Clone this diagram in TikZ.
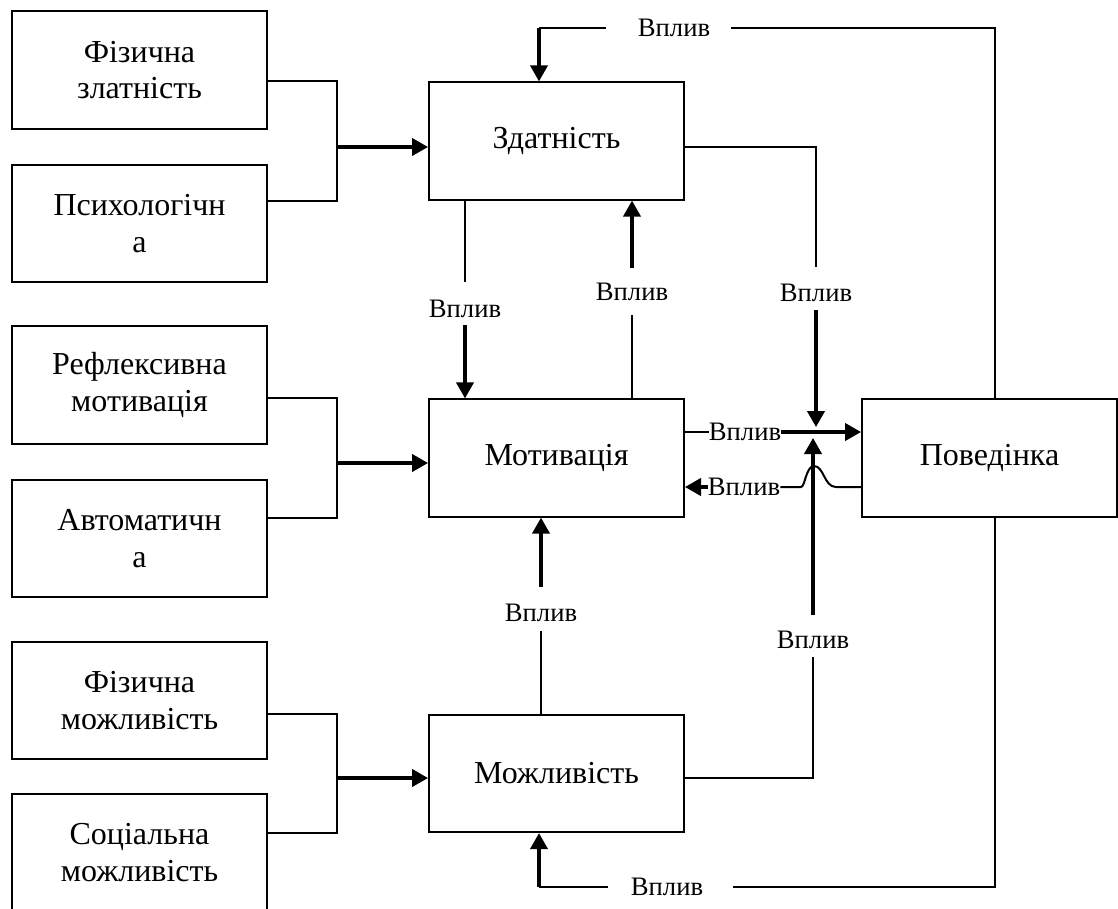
\documentclass[tikz,border=0pt]{standalone}
\usepackage{fontspec}
\setmainfont{Liberation Serif}
\usetikzlibrary{arrows.meta,calc}

\tikzset{
  box/.style={draw, line width=1.5pt, minimum width=191.25pt, minimum height=88pt,
              inner sep=0pt, align=center, font=\fontsize{24}{27.5}\selectfont},
  lbl/.style={inner sep=0pt, font=\fontsize{20}{24}\selectfont},
  ln/.style={line width=1.5pt},
  arr/.style={line width=2.3pt, -{Triangle[length=12pt,width=13pt]}}
}

\begin{document}
\begin{tikzpicture}[x=0.75pt, y=-0.75pt]
\useasboundingbox (0,0) rectangle (1118,908);
\clip (0,0) rectangle (1118,908);

% source factors on the left
\node[box] (fz) at (139.5,70)    {Фізична\\златність};
\node[box] (ps) at (139.5,223.5) {Психологічн\\а};
\node[box] (rm) at (139.5,385)   {Рефлексивна\\мотивація};
\node[box] (av) at (139.5,538.5) {Автоматичн\\а};
\node[box] (fm) at (139.5,700.5) {Фізична\\можливість};
\node[box] (sm) at (139.5,852.5) {Соціальна\\можливість};

% central components and behaviour
\node[box] (zd) at (556.5,141)   {Здатність};
\node[box] (mo) at (556.5,458)   {Мотивація};
\node[box] (mz) at (556.5,773.5) {Можливість};
\node[box] (pv) at (989.5,458)   {Поведінка};

% junctions of the left-hand pairs
\coordinate (j1) at (337,147);
\coordinate (j2) at (337,463);
\coordinate (j3) at (337,778);

\draw[ln] (fz.east |- zd.north) -| (j1) |- (ps.east |- zd.south);
\draw[arr] (j1) -- (j1 -| zd.west);
\draw[ln] (rm.east |- mo.north) -| (j2) |- (av.east |- mo.south);
\draw[arr] (j2) -- (j2 -| mo.west);
\draw[ln] (fm.east |- mz.north) -| (j3) |- (sm.east |- mz.south);
\draw[arr] (j3) -- (j3 -| mz.west);

% influence labels
\node[lbl] (L1) at (674,28)   {Вплив};
\node[lbl] (L2) at (465,309)  {Вплив};
\node[lbl] (L3) at (632,292)  {Вплив};
\node[lbl] (L4) at (816,293)  {Вплив};
\node[lbl] (L5) at (745,432)  {Вплив};
\node[lbl] (L6) at (744,487)  {Вплив};
\node[lbl] (L7) at (541,613)  {Вплив};
\node[lbl] (L8) at (813,640)  {Вплив};
\node[lbl] (L9) at (667,887)  {Вплив};

% Здатність -> Мотивація
\draw[ln, shorten >=13.5pt] (zd.south -| L2) -- (L2.north);
\draw[arr, shorten <=5.25pt] (L2.south) -- (mo.north -| L2);

% Мотивація -> Здатність
\draw[ln, shorten >=10.5pt] (mo.north -| L3) -- (L3.south);
\draw[arr, shorten <=11pt] (L3.north) -- (zd.south -| L3);

% Здатність -> Поведінка
\coordinate (t1) at (816,427);
\draw[ln, shorten >=12.75pt] (zd.east |- j1) -| (L4.north);
\draw[arr, shorten <=6pt] (L4.south) -- (t1);

% Мотивація -> Поведінка
\draw[ln] (mo.east |- L5) -- (L5.west);
\draw[arr] (L5.east) -- (L5 -| pv.west);

% Поведінка -> Мотивація, hopping over the vertical line
\coordinate (h1) at (836,487);
\coordinate (h2) at (801,487);
\draw[ln] (L6 -| pv.west) -- (h1)
  .. controls (824,487) and (824,466) .. (814,466)
  .. controls (806,466) and (805,487) .. (h2) -- (L6.east);
\draw[arr] (L6.west) -- (L6 -| mo.east);

% Можливість -> Мотивація
\draw[ln, shorten >=6.75pt] (mz.north -| L7) -- (L7.south);
\draw[arr, shorten <=12.75pt] (L7.north) -- (mo.south -| L7);

% Можливість -> Поведінка
\coordinate (t2) at (813,438);
\draw[ln, shorten >=6pt] (mz.east |- j3) -| (L8.south);
\draw[arr, shorten <=12pt] (L8.north) -- (t2);

% feedback from Поведінка, top loop
\coordinate (tr) at (995,28);
\coordinate (tl) at (539,28);
\draw[ln, shorten >=15.75pt] (pv.north -| tr) -- (tr) -- (L1.east);
\draw[ln, shorten <=24pt] (L1.west) -- (tl);
\draw[arr] (tl) -- (zd.north -| tl);

% feedback from Поведінка, bottom loop
\coordinate (br) at (995,887);
\coordinate (bl) at (539,887);
\draw[ln, shorten >=22.5pt] (pv.south -| br) -- (br) -- (L9.east);
\draw[ln, shorten <=17pt] (L9.west) -- (bl);
\draw[arr] (bl) -- (mz.south -| bl);
\end{tikzpicture}
\end{document}
